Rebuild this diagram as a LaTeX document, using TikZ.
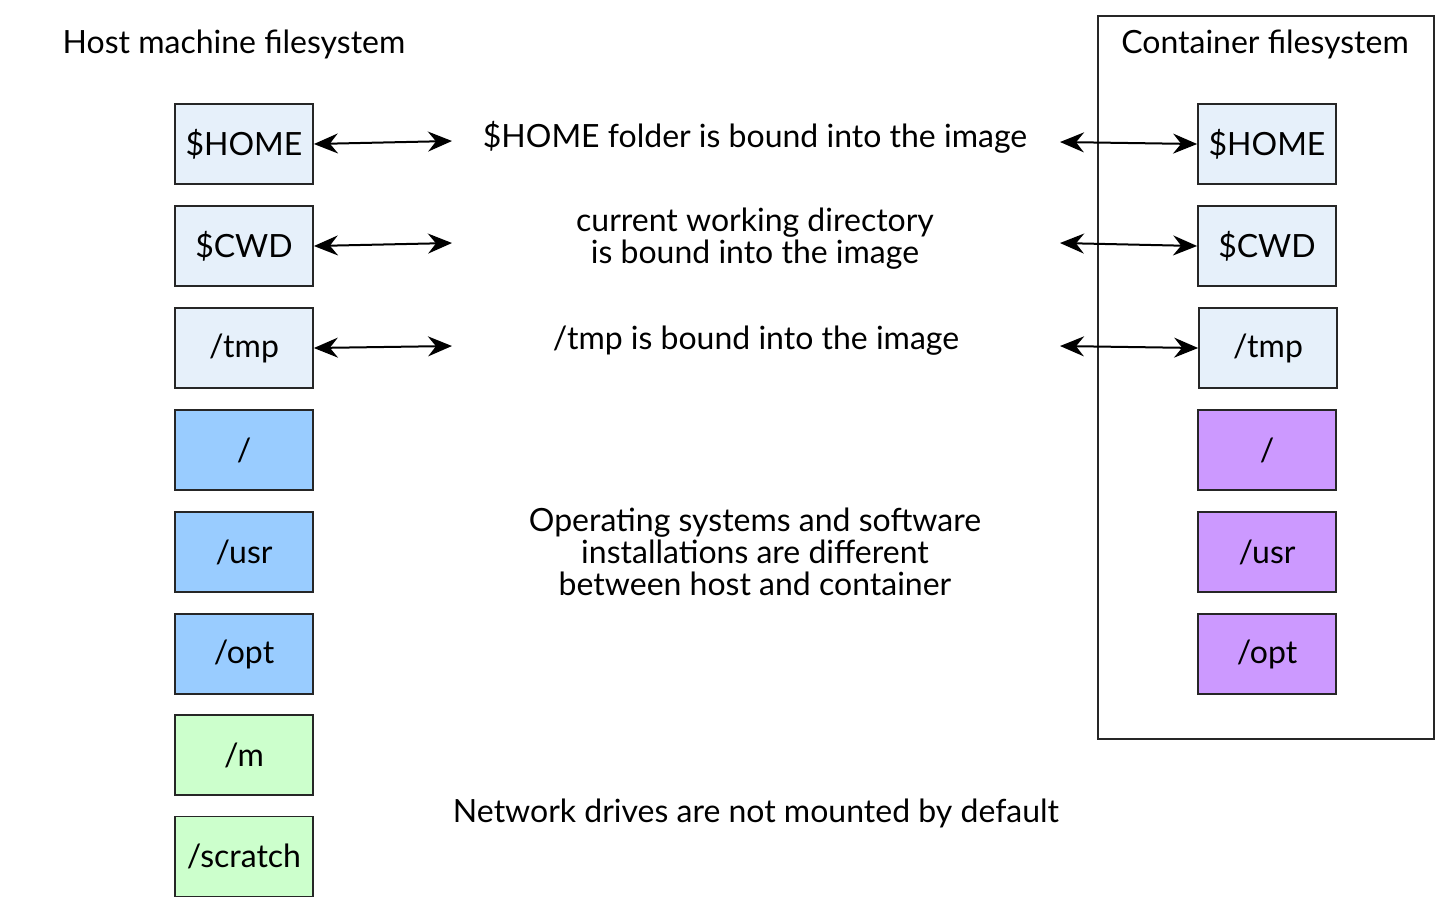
\documentclass[tikz,border=0pt]{standalone}
\usepackage{fontspec}
\setmainfont{Lato}
\usetikzlibrary{arrows.meta}
\definecolor{bindc}{HTML}{E6F0FA}
\definecolor{hostc}{HTML}{99CCFF}
\definecolor{contc}{HTML}{CC99FF}
\definecolor{netc}{HTML}{CCFFCC}
\tikzset{
  fsbox/.style={draw=black!85, line width=0.9pt, minimum width=69pt, minimum height=40pt, inner sep=0pt, font=\fontsize{16}{16}\selectfont},
  lbl/.style={align=center, font=\fontsize{16}{16}\selectfont, inner sep=0pt},
  bidir/.style={{Stealth[length=12pt,width=10pt,inset=4pt]}-{Stealth[length=12pt,width=10pt,inset=4pt]}, line width=1pt},
}
\begin{document}
\begin{tikzpicture}[x=0.5pt, y=-0.5pt]
\useasboundingbox (0,0) rectangle (1450,912);
% container frame
\node[draw=black!85, line width=0.9pt, minimum width=168pt, minimum height=361.5pt, inner sep=0pt] (frame) at (1266,377.5) {};
% titles
\node[lbl] (hosttitle) at (234,44) {Host machine filesystem};
\node[lbl] (conttitle) at (1265,44) {Container filesystem};
% host boxes
\node[fsbox, fill=bindc] (hhome) at (244,144) {\$HOME};
\node[fsbox, fill=bindc] (hcwd) at (244,246) {\$CWD};
\node[fsbox, fill=bindc] (htmp) at (244,348) {/tmp};
\node[fsbox, fill=hostc] (hroot) at (244,450) {/};
\node[fsbox, fill=hostc] (husr) at (244,552) {/usr};
\node[fsbox, fill=hostc] (hopt) at (244,654) {/opt};
\node[fsbox, fill=netc] (hm) at (244,755) {/m};
\node[fsbox, fill=netc] (hscratch) at (244,856.5) {/scratch};
% container boxes
\node[fsbox, fill=bindc] (chome) at (1267,144) {\$HOME};
\node[fsbox, fill=bindc] (ccwd) at (1267,246) {\$CWD};
\node[fsbox, fill=bindc] (ctmp) at (1268,348) {/tmp};
\node[fsbox, fill=contc] (croot) at (1267,450) {/};
\node[fsbox, fill=contc] (cusr) at (1267,552) {/usr};
\node[fsbox, fill=contc] (copt) at (1267,654) {/opt};
% labels
\node[lbl] (lhome) at (755,137) {\$HOME folder is bound into the image};
\node[lbl] (lcwd) at (755,239) {current working directory\\is bound into the image};
\node[lbl] (ltmp) at (756,341) {/tmp is bound into the image};
\node[lbl] (los) at (755,552) {Operating systems and software\\installations are different\\between host and container};
\node[lbl] (lnet) at (756,813) {Network drives are not mounted by default};
% arrow free ends
\coordinate (ahomeL) at (452,141);
\coordinate (ahomeR) at (1060,142);
\coordinate (acwdL) at (452,243);
\coordinate (acwdR) at (1060,243);
\coordinate (atmpL) at (452,346);
\coordinate (atmpR) at (1060,346);
% arrows
\draw[bidir] (hhome.east) -- (ahomeL);
\draw[bidir] (ahomeR) -- (chome.west);
\draw[bidir] (hcwd.east) -- (acwdL);
\draw[bidir] (acwdR) -- (ccwd.west);
\draw[bidir] (htmp.east) -- (atmpL);
\draw[bidir] (atmpR) -- (ctmp.west);
\end{tikzpicture}
\end{document}
